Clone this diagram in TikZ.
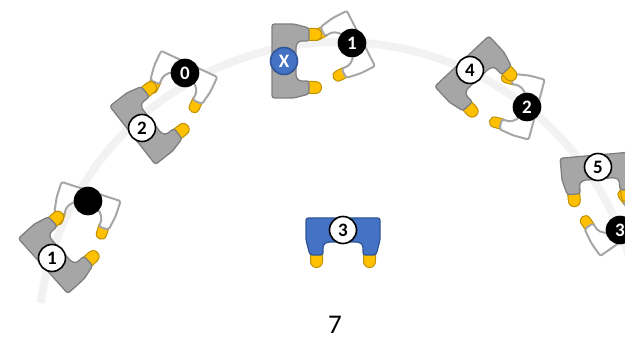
\documentclass[tikz,border=0pt]{standalone}
\usepackage{fontspec}
\setmainfont{Carlito}
\definecolor{gfill}{HTML}{A6A6A6}
\definecolor{gdraw}{HTML}{7F7F7F}
\definecolor{wdraw}{HTML}{A6A6A6}
\definecolor{bfill}{HTML}{4472C4}
\definecolor{bdraw}{HTML}{2F5597}
\definecolor{yfill}{HTML}{FFC000}
\definecolor{ydraw}{HTML}{BF9000}
\definecolor{arcc}{HTML}{F2F2F2}
\tikzset{
  tipst/.style={fill=yfill, draw=ydraw, line width=1pt},
  pics/gripper/.style n args={3}{code={
    \foreach \s in {1,-1}{
      \filldraw[tipst, xscale=\s] (20.5,-22) -- (20.5,-31) .. controls (20.5,-35) and (23,-37.5) .. (26.5,-37.5) .. controls (30,-37.5) and (32.5,-35) .. (32.5,-31) -- (32.5,-22) -- cycle;
    }
    \filldraw[fill=#1, draw=#2, line width=#3, rounded corners=2.5pt] (-37,12) -- (37,12) -- (37,-10) -- (33,-25) -- (20,-25) -- (20,-15) -- (16,-12) -- (-16,-12) -- (-20,-15) -- (-20,-25) -- (-33,-25) -- (-37,-10) -- cycle;
  }},
  pics/wgripper/.style={code={
    \foreach \s in {1,-1}{
      \filldraw[tipst, xscale=\s] (17.8,-19) -- (17.8,-27) .. controls (17.8,-30.5) and (20,-32.5) .. (23,-32.5) .. controls (26,-32.5) and (28.2,-30.5) .. (28.2,-27) -- (28.2,-19) -- cycle;
    }
    \filldraw[fill=white, draw=wdraw, line width=2pt, rounded corners=2pt] (-31,10) -- (31,10) -- (31,-6) -- (28.5,-21) -- (18.5,-21) -- (18.5,-12) -- (13,-5) -- (-13,-5) -- (-18.5,-12) -- (-18.5,-21) -- (-28.5,-21) -- (-31,-6) -- cycle;
  }},
  lblw/.style={circle, fill=white, draw=black, line width=1.6pt, minimum size=27pt, inner sep=0pt, font=\fontsize{19pt}{19pt}\selectfont\bfseries},
  lblb/.style={lblw, fill=black, text=white},
  lblx/.style={lblw, fill=bfill, draw=bdraw, text=white},
}
\begin{document}
\begin{tikzpicture}[x=1pt, y=1pt]
\useasboundingbox (0,0) rectangle (625,340);
\clip (0,0) rectangle (625,340);
% arc
\draw[arcc, line width=8pt] (40.8,37) arc[start angle=172.2, end angle=7.8, radius=302pt];
% white grippers
\pic[rotate=-18] at (88,139) {wgripper};
\pic[rotate=-25] at (185,267) {wgripper};
\pic[rotate=-63] at (352,297) {wgripper};
\pic[rotate=255] at (527,233) {wgripper};
\pic[rotate=215] at (620,110) {wgripper};
% gray grippers
\pic[rotate=132] at (52,82) {gripper={gfill}{gdraw}{1.3pt}};
\pic[rotate=128] at (142,212) {gripper={gfill}{gdraw}{1.3pt}};
\pic[rotate=90] at (284,279) {gripper={gfill}{gdraw}{1.3pt}};
\pic[rotate=43] at (470,270) {gripper={gfill}{gdraw}{1.3pt}};
\pic[rotate=5] at (598,173) {gripper={gfill}{gdraw}{1.3pt}};
% blue gripper
\pic at (343,110) {gripper={bfill}{bdraw}{1.3pt}};
% labels
\node[lblb] (w1) at (88,139) {};
\node[lblb] (w0) at (185,267) {0};
\node[lblb] (wt) at (352,297) {1};
\node[lblb] (w2) at (527,233) {2};
\node[lblb] (w3) at (620,110) {3};
\node[lblw] (g1) at (52,82) {1};
\node[lblw] (g2) at (142,212) {2};
\node[lblx] (gx) at (284,279) {X};
\node[lblw] (g4) at (470,270) {4};
\node[lblw] (g5) at (598,173) {5};
\node[lblw] (b3) at (343,110) {3};
\node[inner sep=0pt, font=\fontsize{27pt}{27pt}\selectfont] (seven) at (335,15) {7};
\end{tikzpicture}
\end{document}
